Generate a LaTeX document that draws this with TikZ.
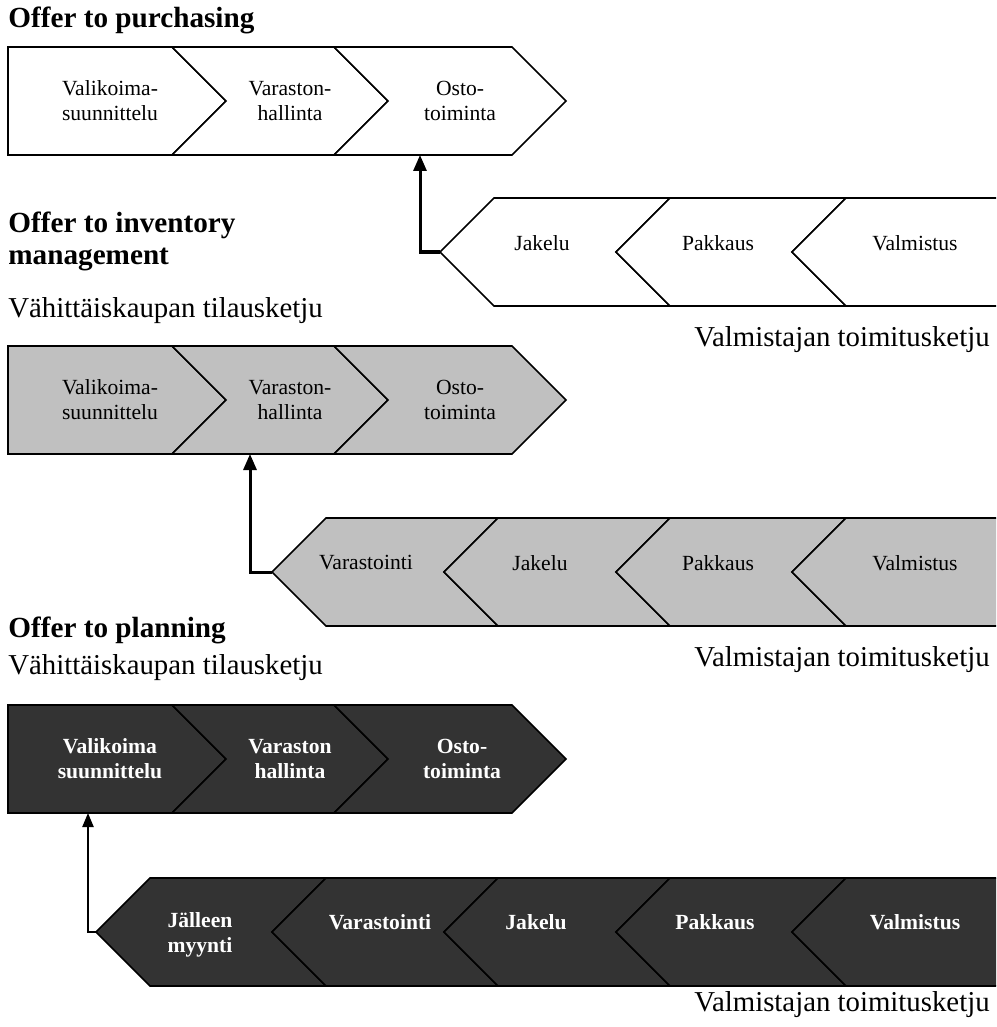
\documentclass[tikz,border=0pt]{standalone}
\usepackage{fontspec}
\setmainfont{Liberation Serif}
\usepackage{tikz}
\usetikzlibrary{arrows.meta, positioning}
\definecolor{chgray}{RGB}{192,192,192}
\definecolor{chdark}{RGB}{51,51,51}
\tikzset{
  chev/.style={draw=black, line width=0.8pt, line join=miter},
  whitechev/.style={chev, fill=white},
  graychev/.style={chev, fill=chgray},
  darkchev/.style={chev, fill=chdark},
  steptext/.style={align=center, inner sep=0pt,
    font=\fontsize{10.8}{12.6}\selectfont},
  darktext/.style={align=center, inner sep=0pt, text=white,
    font=\fontsize{10.8}{12.6}\selectfont\bfseries},
  headline/.style={anchor=west, align=left, inner sep=0pt,
    font=\fontsize{14.6}{16}\selectfont\bfseries},
  chainlabel/.style={inner sep=0pt, font=\fontsize{14.4}{16}\selectfont},
  arrow/.style={-{Triangle[length=8pt, width=6.5pt]}, line width=1.5pt},
  thinarrow/.style={-{Triangle[length=7pt, width=5.5pt]}, line width=1.1pt}
}
\begin{document}
\begin{tikzpicture}[x=0.5pt, y=-0.5pt]
  \useasboundingbox (0,0) rectangle (996,1027);
  \clip (0,0) rectangle (996,1027);

  % Offer to purchasing
  \node[headline] (head1) at (8,20) {Offer to purchasing};
  \draw[whitechev] (8,47) -- (172,47) -- (226,101) -- (172,155) -- (8,155) -- cycle;
  \draw[whitechev] (172,47) -- (334,47) -- (388,101) -- (334,155) -- (172,155) -- (226,101) -- cycle;
  \draw[whitechev] (334,47) -- (512,47) -- (566,101) -- (512,155) -- (334,155) -- (388,101) -- cycle;
  \node[steptext] (valik1) at (110,101) {Valikoima-\\suunnittelu};
  \node[steptext] (varh1) at (290,101) {Varaston-\\hallinta};
  \node[steptext] (osto1) at (460,101) {Osto-\\toiminta};

  \draw[whitechev] (440,252) -- (494,198) -- (670,198) -- (616,252) -- (670,306) -- (494,306) -- cycle;
  \draw[whitechev] (616,252) -- (670,198) -- (846,198) -- (792,252) -- (846,306) -- (670,306) -- cycle;
  \draw[whitechev] (792,252) -- (846,198) -- (1010,198) -- (1010,306) -- (846,306) -- cycle;
  \node[steptext] (jak1) at (542,243) {Jakelu};
  \node[steptext] (pak1) at (718,243) {Pakkaus};
  \node[steptext] (valm1) at (915,243) {Valmistus};

  \coordinate (jtip1) at (440,252);
  \coordinate (ohit1) at (420,155);
  \draw[arrow] (jtip1) -| (ohit1);

  \node[chainlabel, anchor=east] (mlab1) at (990,340) {Valmistajan toimitusketju};

  % Offer to inventory management
  \node[headline] (head2) at (8,241) {Offer to inventory\\management};
  \node[chainlabel, anchor=west] (rlab2) at (8,311) {Vähittäiskaupan tilausketju};
  \draw[graychev] (8,346) -- (172,346) -- (226,400) -- (172,454) -- (8,454) -- cycle;
  \draw[graychev] (172,346) -- (334,346) -- (388,400) -- (334,454) -- (172,454) -- (226,400) -- cycle;
  \draw[graychev] (334,346) -- (512,346) -- (566,400) -- (512,454) -- (334,454) -- (388,400) -- cycle;
  \node[steptext] (valik2) at (110,400) {Valikoima-\\suunnittelu};
  \node[steptext] (varh2) at (290,400) {Varaston-\\hallinta};
  \node[steptext] (osto2) at (460,400) {Osto-\\toiminta};

  \draw[graychev] (272,572) -- (326,518) -- (498,518) -- (444,572) -- (498,626) -- (326,626) -- cycle;
  \draw[graychev] (444,572) -- (498,518) -- (670,518) -- (616,572) -- (670,626) -- (498,626) -- cycle;
  \draw[graychev] (616,572) -- (670,518) -- (846,518) -- (792,572) -- (846,626) -- (670,626) -- cycle;
  \draw[graychev] (792,572) -- (846,518) -- (1010,518) -- (1010,626) -- (846,626) -- cycle;
  \node[steptext] (vst2) at (366,563) {Varastointi};
  \node[steptext] (jak2) at (540,563) {Jakelu};
  \node[steptext] (pak2) at (718,563) {Pakkaus};
  \node[steptext] (valm2) at (915,563) {Valmistus};

  \coordinate (vtip2) at (272,572);
  \coordinate (vhit2) at (250,454);
  \draw[arrow] (vtip2) -| (vhit2);

  \node[chainlabel, anchor=east] (mlab2) at (990,660) {Valmistajan toimitusketju};

  % Offer to planning
  \node[headline] (head3) at (8,630) {Offer to planning};
  \node[chainlabel, anchor=west] (rlab3) at (8,668) {Vähittäiskaupan tilausketju};
  \draw[darkchev] (8,705) -- (172,705) -- (226,759) -- (172,813) -- (8,813) -- cycle;
  \draw[darkchev] (172,705) -- (334,705) -- (388,759) -- (334,813) -- (172,813) -- (226,759) -- cycle;
  \draw[darkchev] (334,705) -- (512,705) -- (566,759) -- (512,813) -- (334,813) -- (388,759) -- cycle;
  \node[darktext] (valik3) at (110,759) {Valikoima\\suunnittelu};
  \node[darktext] (varh3) at (290,759) {Varaston\\hallinta};
  \node[darktext] (osto3) at (462,759) {Osto-\\toiminta};

  \draw[darkchev] (96,932) -- (150,878) -- (326,878) -- (272,932) -- (326,986) -- (150,986) -- cycle;
  \draw[darkchev] (272,932) -- (326,878) -- (498,878) -- (444,932) -- (498,986) -- (326,986) -- cycle;
  \draw[darkchev] (444,932) -- (498,878) -- (670,878) -- (616,932) -- (670,986) -- (498,986) -- cycle;
  \draw[darkchev] (616,932) -- (670,878) -- (846,878) -- (792,932) -- (846,986) -- (670,986) -- cycle;
  \draw[darkchev] (792,932) -- (846,878) -- (1010,878) -- (1010,986) -- (846,986) -- cycle;
  \node[darktext] (jal3) at (200,935) {Jälleen\\myynti};
  \node[darktext] (vst3) at (380,922) {Varastointi};
  \node[darktext] (jak3) at (536,922) {Jakelu};
  \node[darktext] (pak3) at (715,922) {Pakkaus};
  \node[darktext] (valm3) at (915,922) {Valmistus};

  \coordinate (jtip3) at (96,932);
  \coordinate (vhit3) at (88,813);
  \draw[thinarrow] (jtip3) -| (vhit3);

  \node[chainlabel, anchor=east] (mlab3) at (990,1005) {Valmistajan toimitusketju};
\end{tikzpicture}
\end{document}
